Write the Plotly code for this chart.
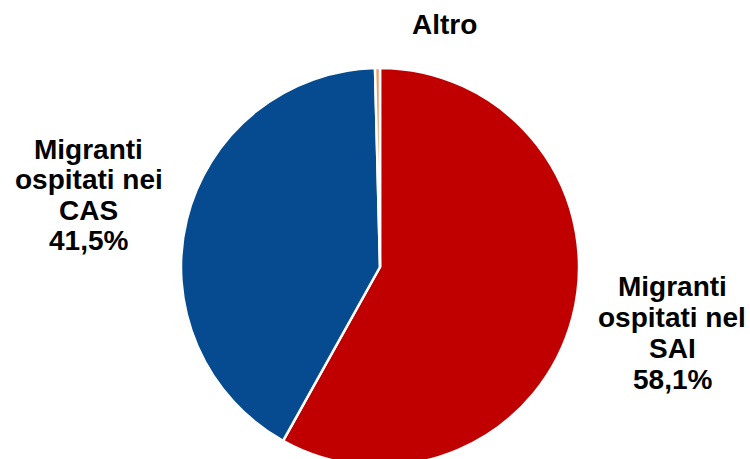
import plotly.graph_objects as go

# Shares of hosted migrants by reception system
categories = ["Migranti ospitati nel SAI", "Migranti ospitati nei CAS", "Altro"]
label_lines = [["Migranti", "ospitati nel", "SAI"],
               ["Migranti", "ospitati nei", "CAS"],
               ["Altro"]]
shares = [58.1, 41.5, 0.4]
show_share = [True, True, False]
colors = ["#C00000", "#064B8F", "#EDA06A"]

W, H = 750, 468
FONT = "Arial, 'Liberation Sans', sans-serif"
FS = 28

# Pie placement (pixel centre and radius)
cx, cy, r = 380, 267, 199

fig = go.Figure(go.Pie(
    labels=categories,
    values=shares,
    sort=False,
    direction="clockwise",
    rotation=0,
    marker=dict(colors=colors, line=dict(color="white", width=2.5)),
    textinfo="none",
    hoverinfo="label+percent",
    showlegend=False,
    domain=dict(x=[(cx - r) / W, (cx + r) / W],
                y=[(H - (cy + r)) / H, (H - (cy - r)) / H]),
))

# Label blocks: centre x, first baseline, line pitch (pixels)
label_pos = [(672, 296.0, 31.1), (88.5, 159.3, 30.4), (444, 34.3, 30.4)]

annotations = []
for lines, val, show, (lx, base, pitch) in zip(label_lines, shares, show_share, label_pos):
    rows = list(lines)
    if show:
        rows.append(f"{val:.1f}".replace(".", ",") + "%")
    for i, row in enumerate(rows):
        y_mid = base + i * pitch - 0.3465 * FS
        annotations.append(dict(
            text=f"<b>{row}</b>", x=lx / W, y=(H - y_mid) / H,
            xref="paper", yref="paper", xanchor="center", yanchor="middle",
            showarrow=False, font=dict(family=FONT, size=FS, color="#000000"),
        ))

fig.update_layout(
    width=W, height=H,
    margin=dict(l=0, r=0, t=0, b=0),
    paper_bgcolor="white", plot_bgcolor="white",
    annotations=annotations,
)

fig.write_html(
    "out.html",
    post_script="document.body.style.margin='0';"
                "document.body.style.overflow='hidden';"
                "document.documentElement.style.overflow='hidden';",
)
